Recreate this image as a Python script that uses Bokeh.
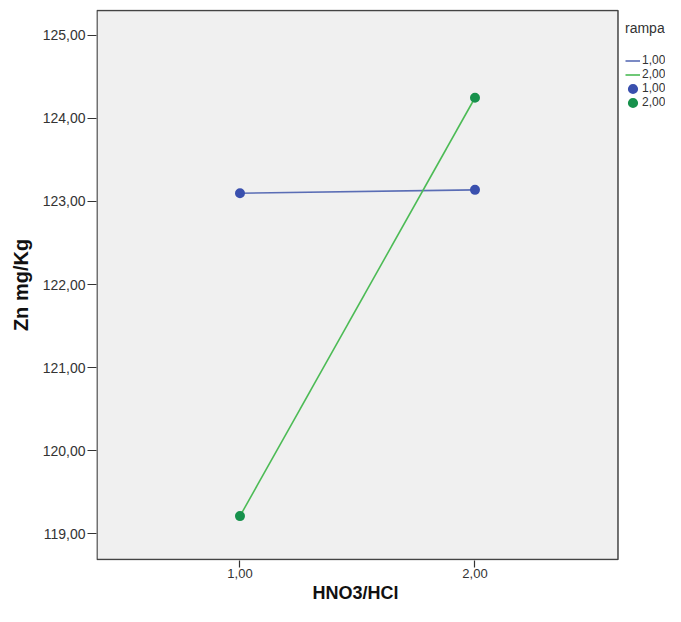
from bokeh.plotting import figure
from bokeh.models import (Range1d, FixedTicker, Legend, LegendItem, BoxAnnotation,
                          Title)
from bokeh.embed import file_html
from bokeh.resources import INLINE

# ---- data ----
x_vals = [1.0, 2.0]
rampa_1 = [123.10, 123.14]
rampa_2 = [119.21, 124.25]
y_ticks = [119, 120, 121, 122, 123, 124, 125]
y_labels = ["119,00", "120,00", "121,00", "122,00", "123,00", "124,00", "125,00"]
x_ticks = [1, 2]
x_labels = ["1,00", "2,00"]
x_title = "HNO3/HCl"
y_title = "Zn mg/Kg"
legend_title = "rampa"
series_labels = ["1,00", "2,00"]

# ---- styles ----
FONT = "Liberation Sans"
BLUE_LINE = "#5a6db5"
GREEN_LINE = "#4cbb55"
BLUE_PT = "#3a50ae"
GREEN_PT = "#17914c"
BORDER = "#444444"

# plot box limits (SPSS-style grey area); the frame extends further right
# to leave room for the legend
BOX_X = (0.3915, 2.6085)
BOX_Y = (118.686, 125.301)
X0 = 0.3894
PX_PER_X = 235.0
LEFT = 96
WIDTH = 665

p = figure(width=WIDTH, height=606, output_backend="svg", toolbar_location=None,
           x_range=Range1d(X0, X0 + (WIDTH - LEFT) / PX_PER_X),
           y_range=Range1d(118.675, 125.313),
           min_border_left=LEFT, min_border_right=0, min_border_top=9,
           min_border_bottom=46)

p.background_fill_color = "white"
p.border_fill_color = "white"
p.outline_line_color = None
p.xgrid.visible = False
p.ygrid.visible = False

box = BoxAnnotation(left=BOX_X[0], right=BOX_X[1], bottom=BOX_Y[0], top=BOX_Y[1],
                    fill_color="#f0f0f0", fill_alpha=1.0,
                    line_color=BORDER, line_alpha=1.0, line_width=1.5,
                    level="underlay")
p.add_layout(box)

# axes
p.yaxis.ticker = FixedTicker(ticks=y_ticks)
p.yaxis.major_label_overrides = {t: l for t, l in zip(y_ticks, y_labels)}
p.xaxis.ticker = FixedTicker(ticks=x_ticks)
p.xaxis.major_label_overrides = {t: l for t, l in zip(x_ticks, x_labels)}
for ax in (p.xaxis, p.yaxis):
    ax.minor_tick_line_color = None
    ax.major_tick_in = 0
    ax.major_tick_line_color = "#333333"
    ax.major_tick_line_width = 1.2
    ax.axis_line_color = None
    ax.major_label_text_font = FONT
    ax.major_label_text_color = "#333333"
p.yaxis.major_label_text_font_size = "14px"
p.xaxis.major_label_text_font_size = "13px"
p.yaxis.major_label_standoff = 2
p.xaxis.major_label_standoff = 1
p.yaxis.major_tick_out = 9
p.xaxis.major_tick_out = 7
p.yaxis.axis_label = y_title
p.yaxis.axis_label_text_font = FONT
p.yaxis.axis_label_text_font_style = "bold"
p.yaxis.axis_label_text_font_size = "20px"
p.yaxis.axis_label_text_color = "#111111"
p.yaxis.axis_label_standoff = 8

# x-axis title centred under the grey box (not under the whole frame)
xt = Title(text=x_title, align="left", offset=216, standoff=0,
           text_font=FONT, text_font_style="bold", text_font_size="18px",
           text_color="#111111")
p.add_layout(xt, "below")

# data (marker + outline gives a 10px dot and a matching legend dot)
l1 = p.line(x_vals, rampa_1, line_color=BLUE_LINE, line_width=1.6)
l2 = p.line(x_vals, rampa_2, line_color=GREEN_LINE, line_width=1.6)
s1 = p.scatter(x_vals, rampa_1, size=5, fill_color=BLUE_PT, line_color=BLUE_PT, line_width=5)
s2 = p.scatter(x_vals, rampa_2, size=5, fill_color=GREEN_PT, line_color=GREEN_PT, line_width=5)

legend = Legend(items=[
    LegendItem(label=series_labels[0], renderers=[l1]),
    LegendItem(label=series_labels[1], renderers=[l2]),
    LegendItem(label=series_labels[0], renderers=[s1]),
    LegendItem(label=series_labels[1], renderers=[s2]),
], location=(529, 451))
legend.title = legend_title
legend.title_text_font = FONT
legend.title_text_font_size = "14px"
legend.title_text_font_style = "normal"
legend.title_text_color = "#333333"
legend.title_standoff = 17
legend.label_text_font = FONT
legend.label_text_font_size = "12px"
legend.label_text_color = "#333333"
legend.label_height = 13
legend.glyph_height = 13
legend.glyph_width = 15
legend.label_standoff = 2
legend.spacing = 0
legend.padding = 0
legend.margin = 0
legend.background_fill_alpha = 0
legend.border_line_alpha = 0
p.add_layout(legend, "center")

open("out.html", "w").write(file_html(p, INLINE))
